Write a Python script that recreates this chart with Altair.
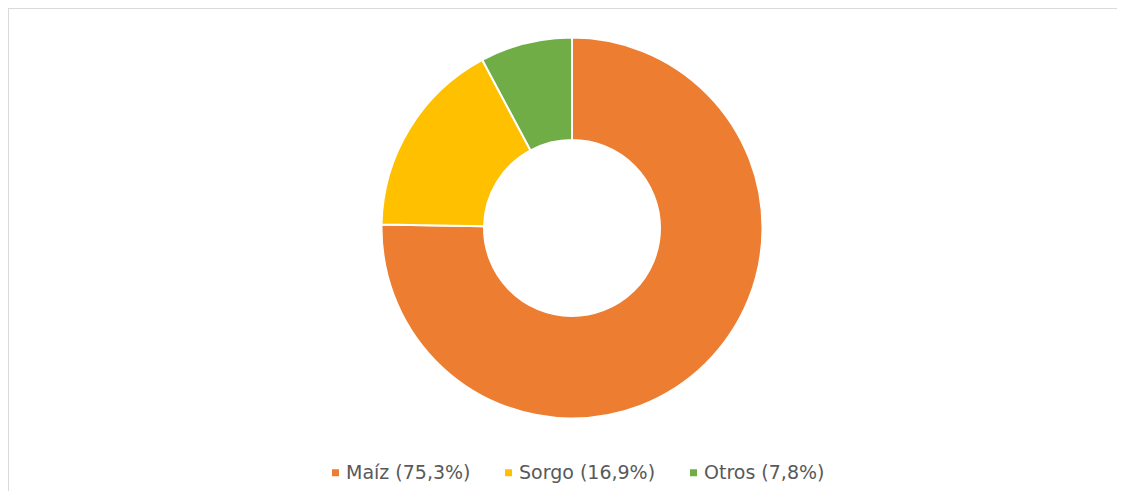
import altair as alt
import pandas as pd

categories = ["Maíz (75,3%)", "Sorgo (16,9%)", "Otros (7,8%)"]
values = [75.3, 16.9, 7.8]
colors = ["#ED7D31", "#FFC000", "#70AD47"]

df = pd.DataFrame({"cat": categories, "val": values, "ord": list(range(len(values)))})

W, H = 1109, 483
CX, CY = 564, 220

arc = alt.Chart(df).mark_arc(
    innerRadius=88, outerRadius=190.5, stroke="white", strokeWidth=2
).encode(
    theta=alt.Theta("val:Q", stack=True),
    order=alt.Order("ord:Q"),
    color=alt.Color(
        "cat:N",
        scale=alt.Scale(domain=categories, range=colors),
        sort=categories,
        legend=alt.Legend(
            title=None,
            orient="none",
            legendX=318,
            legendY=455,
            direction="horizontal",
            symbolType="square",
            symbolSize=49,
            symbolStrokeWidth=0,
            labelFont="DejaVu Sans",
            labelFontSize=19,
            labelColor="#595959",
            labelOffset=1,
            columnPadding=28,
            labelLimit=300,
        ),
    ),
    x=alt.value(CX),
    y=alt.value(CY),
)

border_df = pd.DataFrame({"a": [0]})
left = alt.Chart(border_df).mark_rule(color="#D9D9D9", strokeWidth=1.5).encode(
    x=alt.value(0), y=alt.value(0), y2=alt.value(H + 20)
)
top = alt.Chart(border_df).mark_rule(color="#D9D9D9", strokeWidth=1.5).encode(
    x=alt.value(0), x2=alt.value(W + 20), y=alt.value(0)
)

chart = alt.layer(left, top, arc).properties(
    width=W, height=H, padding=0, autosize=alt.AutoSizeParams(type="none")
).configure_view(stroke=None).configure(background="white")

chart.save("out.html", embed_options={"renderer": "svg", "actions": False})
